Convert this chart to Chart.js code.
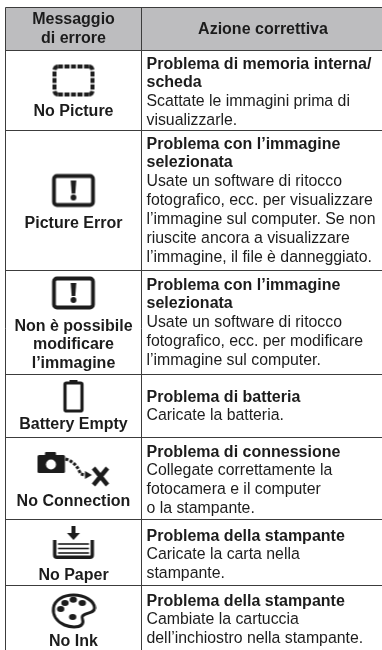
<!DOCTYPE html>
<html><head><meta charset="utf-8">
<script src="https://cdn.jsdelivr.net/npm/chart.js@4"></script>
<style>html,body{margin:0;padding:0;background:#fff}canvas{display:block;filter:blur(0.3px)}</style>
</head><body><div style="width:382px;height:650px"><canvas id="c"></canvas></div>
<script>
const headerLeft = ["Messaggio", "di errore"];
const headerRight = ["Azione correttiva"];
const messages = [["No Picture"],["Picture Error"],["Non è possibile","modificare","l’immagine"],["Battery Empty"],["No Connection"],["No Paper"],["No Ink"]];
const titles = [
 ["Problema di memoria interna/","scheda"],
 ["Problema con l’immagine","selezionata"],
 ["Problema con l’immagine","selezionata"],
 ["Problema di batteria"],
 ["Problema di connessione"],
 ["Problema della stampante"],
 ["Problema della stampante"]];
const bodies = [
 ["Scattate le immagini prima di","visualizzarle."],
 ["Usate un software di ritocco","fotografico, ecc. per visualizzare","l’immagine sul computer. Se non","riuscite ancora a visualizzare","l’immagine, il file è danneggiato."],
 ["Usate un software di ritocco","fotografico, ecc. per modificare","l’immagine sul computer."],
 ["Caricate la batteria."],
 ["Collegate correttamente la","fotocamera e il computer","o la stampante."],
 ["Caricate la carta nella","stampante."],
 ["Cambiate la cartuccia","dell’inchiostro nella stampante."]];
const iconNames = ["dashed","alert","alert","battery","camera","paper","palette"];

// layout (page units)
const L = {left:5.5, split:141.5, top:7.5, head:50.5, rows:[130.5,270.5,374.5,437.5,519.5,585.5],
  firstBase:[68.5,148.5,289.5,401.5,456.5,540.5,605.5], msgBase:[115.5,227.5,330.5,428.5,505.5,579.5,645.5], iconY:[80.5,190.5,293,396,469,543,611],
  lh:18.9, font:16, bodyFont:15.85, txtX:146.5, colC:73.5};

function mk(w,h,fn){const c=document.createElement('canvas');c.width=w;c.height=h;const x=c.getContext('2d');x.fillStyle=x.strokeStyle='#1c1c1c';x.lineJoin='round';fn(x,w,h);return c;}
function rr(x,a,b,w,h,r){x.beginPath();x.roundRect(a,b,w,h,r);}
const icons = {
 dashed: mk(46,36,x=>{
   [-13,-6.5,0,6.5,13].forEach(d=>{x.fillRect(23+d-2.5,2,5,4);x.fillRect(23+d-2.5,30,5,4);});
   [-6.5,0,6.5].forEach(d=>{x.fillRect(2,18+d-2.5,4,5);x.fillRect(40,18+d-2.5,4,5);});
   x.lineWidth=4;x.lineCap='butt';
   [[8,8,Math.PI,1.5*Math.PI],[38,8,1.5*Math.PI,2*Math.PI],[38,28,0,.5*Math.PI],[8,28,.5*Math.PI,Math.PI]].forEach(a=>{x.beginPath();x.arc(a[0],a[1],4,a[2]+.15,a[3]-.15);x.stroke();});
 }),
 alert: mk(46,36,x=>{x.lineWidth=3.8;rr(x,3.5,3.5,39,29,3);x.stroke();
   x.beginPath();x.moveTo(20.2,8);x.lineTo(25.8,8);x.lineTo(24.8,21);x.lineTo(21.2,21);x.fill();
   x.beginPath();x.arc(23,25,2.9,0,7);x.fill();}),
 battery: mk(24,36,x=>{x.lineWidth=3.2;rr(x,3.5,5,17,28,1.5);x.stroke();x.fillRect(8,2,8,3);}),
 camera: mk(76,38,x=>{
   x.beginPath();x.roundRect(2,5,27.5,18,1.5);x.fill();x.beginPath();x.roundRect(9.5,2,11,4,1);x.fill();
   x.fillStyle='#fff';x.beginPath();x.arc(15.5,14.5,5,0,7);x.fill();x.fillStyle='#1c1c1c';
   x.lineWidth=3;x.setLineDash([3,1.5]);x.beginPath();x.moveTo(30,9);x.quadraticCurveTo(41,12,45,24);x.lineTo(50,25);x.stroke();x.setLineDash([]);
   x.beginPath();x.moveTo(56.5,25);x.lineTo(49.5,21);x.lineTo(49.5,29);x.fill();
   x.lineWidth=4.4;x.lineCap='butt';x.beginPath();x.moveTo(58,18);x.lineTo(72,35);x.moveTo(72,18);x.lineTo(58,35);x.stroke();}),
 paper: mk(46,34,x=>{x.fillRect(21,0,4,7);x.beginPath();x.moveTo(16.5,7);x.lineTo(29.5,7);x.lineTo(23,14);x.fill();
   x.lineWidth=3.4;x.beginPath();x.moveTo(4.2,14);x.lineTo(4.2,29);x.quadraticCurveTo(4.2,31.3,6.5,31.3);x.lineTo(39.5,31.3);x.quadraticCurveTo(41.8,31.3,41.8,29);x.lineTo(41.8,14);x.stroke();
   x.lineWidth=1.6;[18,22.5,27].forEach(y=>{x.beginPath();x.moveTo(7.5,y);x.lineTo(38.5,y);x.stroke();});}),
 palette: mk(46,36,x=>{x.lineWidth=3;x.beginPath();x.moveTo(23,2);x.bezierCurveTo(34,2,44,8,44,15);x.bezierCurveTo(44,21,35,19,32,23);x.bezierCurveTo(30,26,35,28,31,32);x.bezierCurveTo(28,34.5,20,34.5,14,32);x.bezierCurveTo(6,28.5,2,22,3,15);x.bezierCurveTo(4,7,13,2,23,2);x.closePath();x.stroke();
   [[22.8,6.8],[31.8,10],[14.5,10],[10.2,16],[22.2,24]].forEach(p=>{x.beginPath();x.ellipse(p[0],p[1],3.7,3,0,0,7);x.fill();});})
};

const tablePlugin = {id:'table',
 beforeDatasetsDraw(ch){
  const g=ch.ctx,X=ch.scales.x,Y=ch.scales.y,px=v=>X.getPixelForValue(v),py=v=>Y.getPixelForValue(v);
  g.save();
  g.fillStyle='#bdbdbf';g.fillRect(px(L.left),py(L.top),382-px(L.left),py(L.head)-py(L.top));
  g.strokeStyle='#3c3c3c';g.lineWidth=1;
  const hl=y=>{g.beginPath();g.moveTo(px(L.left),py(y));g.lineTo(382,py(y));g.stroke();};
  hl(L.top);hl(L.head);L.rows.forEach(hl);
  [L.left,L.split].forEach(v=>{g.beginPath();g.moveTo(px(v),py(L.top));g.lineTo(px(v),650);g.stroke();});
  g.fillStyle='#1c1c1c';g.textBaseline='alphabetic';
  const bold=`bold ${L.font}px "Liberation Sans"`,reg=`${L.bodyFont}px "Liberation Sans"`;
  g.font=bold;g.textAlign='center';
  headerLeft.forEach((t,i)=>g.fillText(t,px(L.colC),py(24.3+i*18.9)));
  g.fillText(headerRight[0],px(263),py(34));
  messages.forEach((m,r)=>m.forEach((t,i)=>g.fillText(t,px(L.colC),py(L.msgBase[r]+i*L.lh))));
  g.textAlign='left';
  titles.forEach((tl,r)=>{let n=0;
    g.font=bold;tl.forEach(t=>{g.fillText(t,px(L.txtX),py(L.firstBase[r]+n*L.lh));n++;});
    g.font=reg;bodies[r].forEach(t=>{g.fillText(t,px(L.txtX),py(L.firstBase[r]+n*L.lh));n++;});});
  g.restore();
 }};

new Chart(document.getElementById('c'),{
 type:'scatter',
 data:{datasets:[{data:L.iconY.map(y=>({x:L.colC,y})),
   pointStyle:iconNames.map(n=>icons[n]),pointRadius:10,clip:false}]},
 options:{responsive:true,maintainAspectRatio:false,animation:false,devicePixelRatio:1,
  layout:{padding:0,autoPadding:false},
  plugins:{legend:{display:false},tooltip:{enabled:false},title:{display:false}},
  events:[],
  scales:{x:{type:'linear',display:false,min:0,max:382},y:{type:'linear',display:false,reverse:true,min:0,max:650}}},
 plugins:[tablePlugin]});
</script></body></html>
